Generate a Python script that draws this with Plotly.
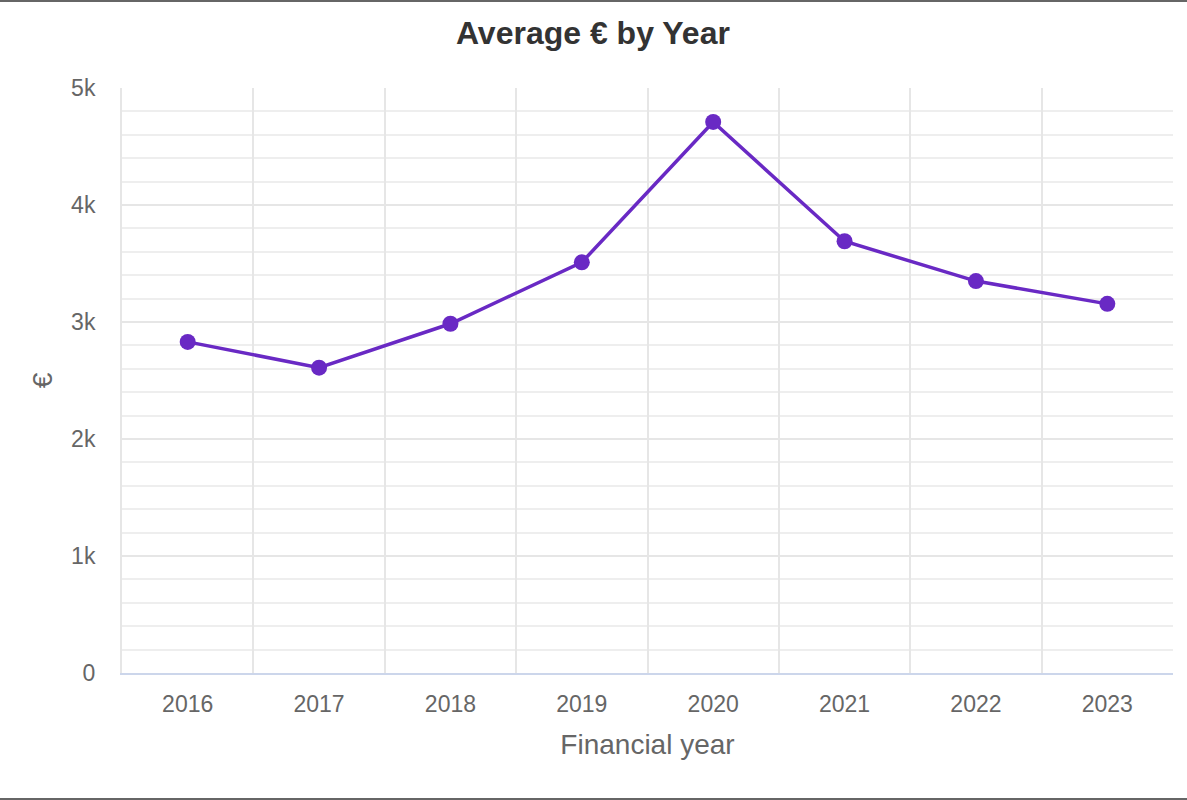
import plotly.graph_objects as go

years = ["2016", "2017", "2018", "2019", "2020", "2021", "2022", "2023"]
avg_eur = [2830, 2610, 2985, 3510, 4710, 3690, 3350, 3155]
y_tickvals = [0, 1000, 2000, 3000, 4000, 5000]
y_ticktext = ["0", "1k", "2k", "3k", "4k", "5k"]

W, H = 1187, 800
ML, MR, MT, MB = 122, 14, 88, 127

fig = go.Figure()
fig.add_trace(go.Scatter(
    x=years, y=avg_eur, mode="lines+markers",
    line=dict(color="#6929c4", width=3.5),
    marker=dict(color="#6929c4", size=16),
    hoverinfo="x+y", showlegend=False,
))

font = "Liberation Sans, Arial, sans-serif"
pw = W - ML - MR
ph = H - MT - MB

fig.update_layout(
    width=W, height=H,
    margin=dict(l=ML, r=MR, t=MT, b=MB),
    paper_bgcolor="white", plot_bgcolor="white",
    font=dict(family=font, color="#666666"),
    title=dict(text="<b>Average € by Year</b>", x=0.4995, xref="container",
               xanchor="center", y=1 - 33 / H, yref="container", yanchor="middle",
               font=dict(size=32, color="#333333", family=font)),
    xaxis=dict(
        type="category", range=[-0.5, 7.5],
        tickson="boundaries", showgrid=True, gridcolor="#e6e6e6", gridwidth=2,
        ticks="", ticklabelstandoff=9,
        tickfont=dict(size=23, color="#666666"),
        showline=True, linecolor="#ccd6eb", linewidth=2,
        title=dict(text="Financial year", font=dict(size=28, color="#666666"), standoff=19),
        zeroline=False, fixedrange=True,
    ),
    yaxis=dict(
        range=[0, 5000], tickvals=y_tickvals, ticktext=y_ticktext,
        showgrid=True, gridcolor="#e6e6e6", gridwidth=2,
        minor=dict(dtick=200, tick0=0, showgrid=True, gridcolor="#eeeeee", gridwidth=2),
        ticks="", ticklabelstandoff=20,
        tickfont=dict(size=23, color="#666666"),
        showline=True, linecolor="#e6e6e6", linewidth=2,
        title=dict(text="€", font=dict(size=28, color="#666666"), standoff=10),
        zeroline=False, fixedrange=True,
    ),
)

# top and bottom border lines of the chart container
def px_x(p):
    return (p - ML) / pw

def px_y(p):
    return (H - MB - p) / ph

for yy in (1, 799):
    fig.add_shape(type="line", xref="paper", yref="paper",
                  x0=px_x(0), x1=px_x(W), y0=px_y(yy), y1=px_y(yy),
                  line=dict(color="#666666", width=2), layer="above")

fig.write_html("out.html")
